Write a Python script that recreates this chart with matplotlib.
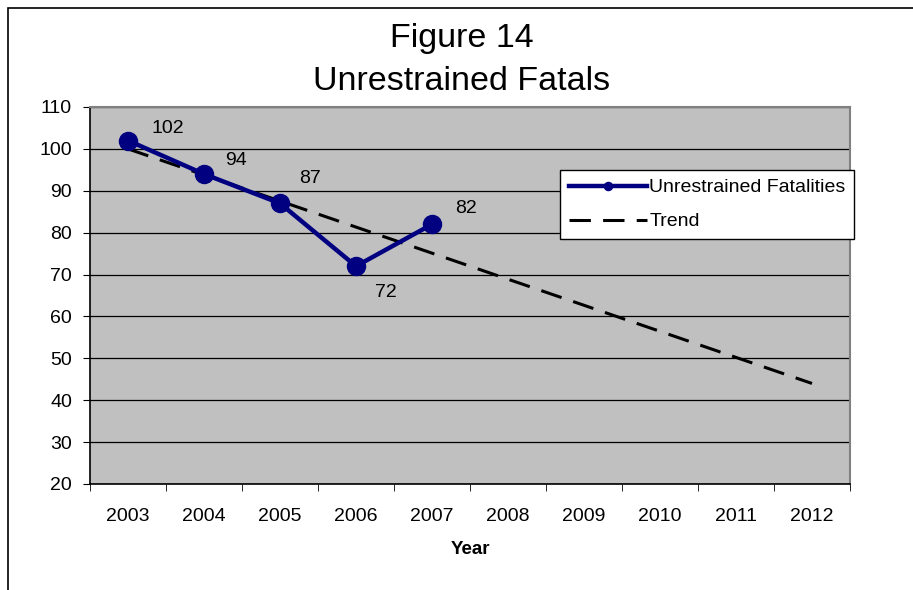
import matplotlib
matplotlib.use("Agg")
from matplotlib import pyplot as plt
from matplotlib.patches import Rectangle
import numpy as np

plt.rcParams['font.family'] = ['Liberation Sans', 'DejaVu Sans']

# data
years = ['2003', '2004', '2005', '2006', '2007', '2008', '2009', '2010', '2011', '2012']
fatalities = [102, 94, 87, 72, 82]
trend_ends = [100, 44]   # trend value at 2003 and at 2012
label_offsets = [(17, 9), (15, 10), (14, 18), (14, -19), (16.5, 11.5)]

fig = plt.figure(figsize=(9.13, 5.90), dpi=100)
# outer frame (only top and left are visible in the original)
fig.patches.append(Rectangle((8 / 913, -0.1), 1.2, 1.1 - 8 / 590, transform=fig.transFigure,
                             fill=False, edgecolor='black', linewidth=1.2))

ax = fig.add_axes([90 / 913, 1 - 484 / 590, 760 / 913, 377 / 590])
ax.set_facecolor('#c0c0c0')

x = np.arange(len(years))
ax.plot([x[0], x[-1]], trend_ends, color='black', linewidth=2.2, dashes=(7, 4),
        label='Trend', zorder=3)
ax.plot(x[:len(fatalities)], fatalities, color='#000080', linewidth=3.2, marker='o',
        markersize=13, label='Unrestrained Fatalities', zorder=4)

for i, v in enumerate(fatalities):
    ax.annotate(str(v), (x[i], v), xytext=label_offsets[i], textcoords='offset points',
                fontsize=14, ha='left', va='center')

ax.set_xlim(-0.5, len(years) - 0.5)
ax.set_ylim(20, 110)
ax.set_yticks(np.arange(20, 111, 10))
ax.yaxis.grid(True, color='black', linewidth=0.9)
ax.set_axisbelow(True)

ax.set_xticks(x)
ax.set_xticklabels(years, fontsize=14)
ax.set_xticks(np.arange(-0.5, len(years), 1), minor=True)
ax.tick_params(axis='x', which='major', length=0, pad=17)
ax.tick_params(axis='x', which='minor', length=5, direction='out', color='black')
ax.tick_params(axis='y', labelsize=14, length=5, direction='out', pad=8)

for side in ['top', 'right']:
    ax.spines[side].set_color('#808080')
    ax.spines[side].set_linewidth(1.5)
for side in ['left', 'bottom']:
    ax.spines[side].set_color('black')
    ax.spines[side].set_linewidth(1.2)

ax.set_xlabel('Year', fontsize=13.5, fontweight='bold', labelpad=12)

fig.text(0.506, 1 - 38 / 590, 'Figure 14', fontsize=24.5, ha='center', va='center')
fig.text(0.506, 1 - 82 / 590, 'Unrestrained Fatals', fontsize=24.5, ha='center', va='center')

handles, labels = ax.get_legend_handles_labels()
leg = ax.legend(handles[::-1], labels[::-1], loc='upper left',
                bbox_to_anchor=(560 / 913, 1 - 170 / 590), bbox_transform=fig.transFigure,
                fontsize=14, frameon=True, fancybox=False, framealpha=1,
                edgecolor='black', handlelength=4.0, borderpad=0.45, labelspacing=0.85,
                handletextpad=0.15, markerscale=0.45, borderaxespad=0)
leg.get_frame().set_linewidth(1.0)

fig.savefig('out.png', dpi=100)
